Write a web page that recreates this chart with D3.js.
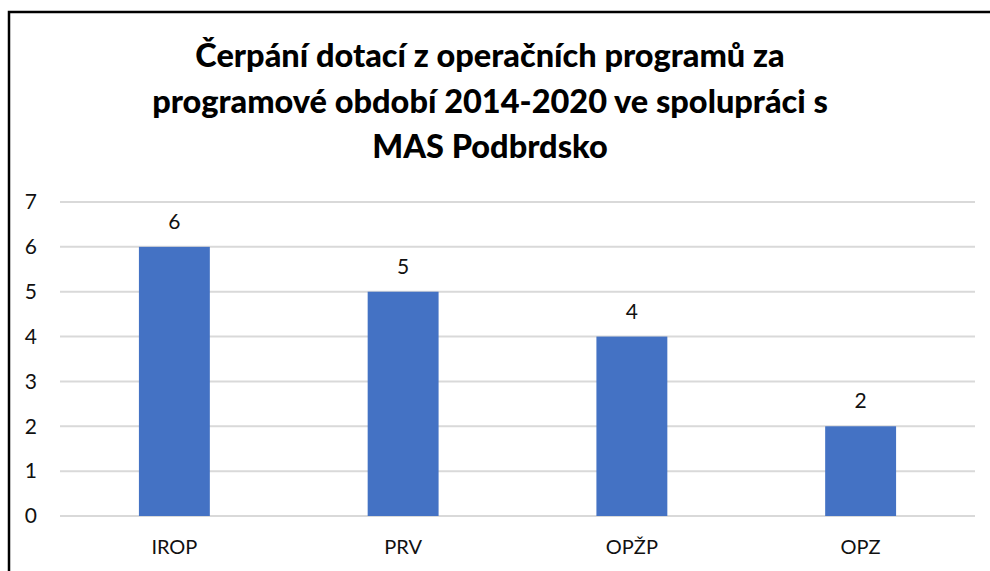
<!DOCTYPE html>
<html lang="cs">
<head>
    <meta charset="UTF-8">
    <title>Čerpání dotací</title>
    <script src="https://cdn.jsdelivr.net/npm/d3@7/dist/d3.min.js"></script>
    <style>
        body { margin: 0; background: #fff; }
        text { font-family: Lato, "Open Sans", sans-serif; }
    </style>
</head>
<body>
<script>
    // data
    var categories = ["IROP", "PRV", "OPŽP", "OPZ"];
    var values = [6, 5, 4, 2];
    var yTicks = [0, 1, 2, 3, 4, 5, 6, 7];
    var titleLines = [
        "Čerpání dotací z operačních programů za",
        "programové období 2014-2020 ve spolupráci s",
        "MAS Podbrdsko"
    ];

    var width = 990, height = 571;
    var svg = d3.select("body").append("svg")
        .attr("width", width)
        .attr("height", height);

    svg.append("rect")
        .attr("width", width).attr("height", height)
        .attr("fill", "#fff");

    // rámeček
    svg.append("path")
        .attr("d", "M9," + height + "V12H" + width)
        .attr("fill", "none")
        .attr("stroke", "#000")
        .attr("stroke-width", 2.5);

    // titulek
    svg.selectAll(".title")
        .data(titleLines)
        .enter().append("text")
        .attr("class", "title")
        .attr("x", 490)
        .attr("y", function (d, i) { return 67 + i * 45.5; })
        .attr("text-anchor", "middle")
        .attr("font-size", 32.5)
        .attr("font-weight", 900)
        .attr("fill", "#000")
        .text(function (d) { return d; });

    var x = d3.scaleBand()
        .domain(categories)
        .range([60, 975])
        .paddingInner(0.69)
        .paddingOuter(0.345);

    var y = d3.scaleLinear()
        .domain([0, 7])
        .range([516, 202]);

    // mřížka
    svg.append("g")
        .selectAll("line")
        .data(yTicks)
        .enter().append("line")
        .attr("x1", 60).attr("x2", 975)
        .attr("y1", function (d) { return y(d); })
        .attr("y2", function (d) { return y(d); })
        .attr("stroke", "#d9d9d9")
        .attr("stroke-width", 2);

    // osa y
    var yAxis = svg.append("g")
        .attr("transform", "translate(37,0)")
        .call(d3.axisLeft(y).tickValues(yTicks).tickFormat(d3.format("d")).tickSize(0).tickPadding(0));
    yAxis.select(".domain").remove();
    yAxis.selectAll("text")
        .attr("font-size", 21)
        .attr("font-family", "Lato, sans-serif")
        .attr("fill", "#111");

    // sloupce
    svg.selectAll(".bar")
        .data(values)
        .enter().append("rect")
        .attr("class", "bar")
        .attr("x", function (d, i) { return x(categories[i]); })
        .attr("y", function (d) { return y(d); })
        .attr("width", x.bandwidth())
        .attr("height", function (d) { return y(0) - y(d); })
        .attr("fill", "#4472c4");

    // popisky hodnot
    svg.selectAll(".val")
        .data(values)
        .enter().append("text")
        .attr("class", "val")
        .attr("x", function (d, i) { return x(categories[i]) + x.bandwidth() / 2; })
        .attr("y", function (d) { return y(d) - 18; })
        .attr("text-anchor", "middle")
        .attr("font-size", 21)
        .attr("fill", "#111")
        .text(function (d) { return d; });

    // osa x
    var xAxis = svg.append("g")
        .attr("transform", "translate(0,516)")
        .call(d3.axisBottom(x).tickSize(0).tickPadding(24));
    xAxis.select(".domain").remove();
    xAxis.selectAll("text")
        .attr("font-size", 20)
        .attr("font-family", "Lato, sans-serif")
        .attr("fill", "#111");
</script>
</body>
</html>
